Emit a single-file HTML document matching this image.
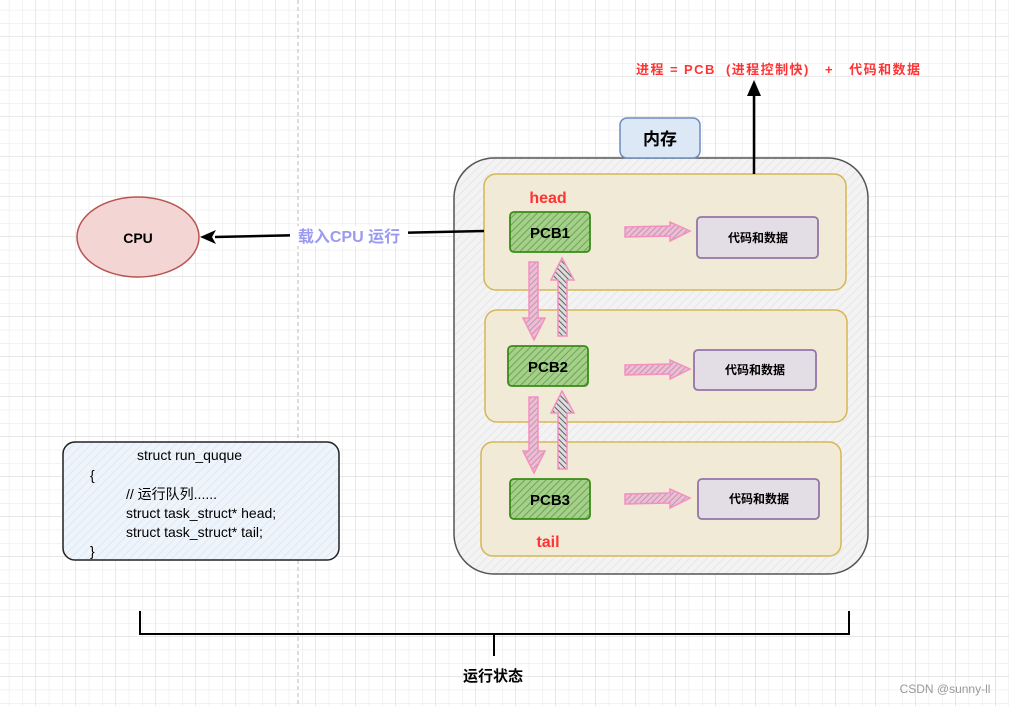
<!DOCTYPE html>
<html><head><meta charset="utf-8"><style>
html,body{margin:0;padding:0;background:#fff}
svg{display:block}
text{font-family:"Liberation Sans","Noto Sans CJK SC",sans-serif;font-weight:bold}
</style></head><body>
<svg width="1009" height="706" viewBox="0 0 1009 706" xmlns="http://www.w3.org/2000/svg">
<defs>
<pattern id="g" width="13.33" height="13.33" patternUnits="userSpaceOnUse" x="-4" y="-3">
<path d="M13.33 0V13.33M0 13.33H13.33" stroke="#e6e6e6" stroke-width="1" fill="none"/>
</pattern>
<pattern id="G" width="40" height="40" patternUnits="userSpaceOnUse" x="-4" y="-3">
<path d="M40 0V40M0 40H40" stroke="#d6d6d6" stroke-width="1" fill="none"/>
</pattern>
<pattern id="h" width="6" height="6" patternUnits="userSpaceOnUse" patternTransform="rotate(45)">
<line x1="0" y1="0" x2="0" y2="6" stroke="rgba(0,0,0,0.05)" stroke-width="2"/>
</pattern>
<pattern id="hg" width="5" height="5" patternUnits="userSpaceOnUse" patternTransform="rotate(45)">
<rect width="5" height="5" fill="#a5cf8a"/>
<line x1="0" y1="0" x2="0" y2="5" stroke="#6aa84f" stroke-width="2"/>
</pattern>
<pattern id="hp" width="4" height="4" patternUnits="userSpaceOnUse" patternTransform="rotate(45)">
<rect width="4" height="4" fill="#f4b9d6"/>
<line x1="0" y1="0" x2="0" y2="4" stroke="#999" stroke-width="1.5"/>
</pattern>
<pattern id="hd" width="4" height="4" patternUnits="userSpaceOnUse" patternTransform="rotate(-45)">
<rect width="4" height="4" fill="#ddd"/>
<line x1="0" y1="0" x2="0" y2="4" stroke="#444" stroke-width="1.6"/>
</pattern>
</defs>
<rect width="1009" height="706" fill="#fff"/>
<rect width="1009" height="706" fill="url(#g)"/>
<rect width="1009" height="706" fill="url(#G)"/>
<line x1="298" y1="0" x2="298" y2="706" stroke="#bbb" stroke-dasharray="4 3"/>

<rect x="454" y="158" width="414" height="416" rx="40" fill="#f3f3f3" stroke="#555" stroke-width="1.5"/>
<rect x="454" y="158" width="414" height="416" rx="40" fill="url(#h)"/>
<rect x="620" y="118" width="80" height="40" rx="7" fill="#dce8f5" stroke="#6c8ebf" stroke-width="1.5"/>
<text x="660" y="145" font-size="17" text-anchor="middle">内存</text>

<g stroke="#d6b656" stroke-width="1.5" fill="#f0ead6">
<rect x="484" y="174" width="362" height="116" rx="12"/>
<rect x="485" y="310" width="362" height="112" rx="12"/>
<rect x="481" y="442" width="360" height="114" rx="12"/>
</g>

<line x1="754" y1="174" x2="754" y2="92" stroke="#000" stroke-width="2.5"/>
<polygon points="754,80 747,96 761,96" fill="#000"/>
<text x="636" y="74" font-size="13" fill="#ff3333" textLength="284" lengthAdjust="spacing" xml:space="preserve">进程 = PCB  (进程控制快)   +   代码和数据</text>

<line x1="484" y1="231" x2="215" y2="237" stroke="#000" stroke-width="2.5"/>
<polygon points="200,237 216,230 212,237 216,244" fill="#000"/>
<rect x="290" y="226" width="118" height="20" fill="#fff"/>
<text x="349" y="242" font-size="16" fill="#9a9af0" text-anchor="middle">载入CPU 运行</text>

<ellipse cx="138" cy="237" rx="61" ry="40" fill="#f3d5d4" stroke="#b85450" stroke-width="1.5"/>
<text x="138" y="243" font-size="14" text-anchor="middle">CPU</text>

<text x="548" y="203" font-size="16" fill="#ff3333" text-anchor="middle">head</text>
<text x="548" y="547" font-size="16" fill="#ff3333" text-anchor="middle">tail</text>

<g stroke="#3a8a1a" stroke-width="1.8">
<rect x="510" y="212" width="80" height="40" rx="4" fill="url(#hg)"/>
<rect x="508" y="346" width="80" height="40" rx="4" fill="url(#hg)"/>
<rect x="510" y="479" width="80" height="40" rx="4" fill="url(#hg)"/>
</g>
<g font-size="15" text-anchor="middle">
<text x="550" y="238">PCB1</text>
<text x="548" y="372">PCB2</text>
<text x="550" y="505">PCB3</text>
</g>

<g stroke="#9673a6" stroke-width="1.8" fill="#e3dde6">
<rect x="697" y="217" width="121" height="41" rx="4"/>
<rect x="694" y="350" width="122" height="40" rx="4"/>
<rect x="698" y="479" width="121" height="40" rx="4"/>
</g>
<g font-size="12" text-anchor="middle">
<text x="758" y="242">代码和数据</text>
<text x="755" y="374">代码和数据</text>
<text x="759" y="503">代码和数据</text>
</g>

<g fill="url(#hp)" stroke="#f48fc0" stroke-width="1.5">
<polygon points="625,227 670,226 670,222 690,231 670,241 670,236 625,237"/>
<polygon points="625,365 670,364 670,360 690,369 670,379 670,374 625,375"/>
<polygon points="625,494 670,493 670,489 690,498 670,508 670,503 625,504"/>
</g>
<g fill="url(#hp)" stroke="#f48fc0" stroke-width="1.5">
<polygon points="529,262 538,262 538,318 545,318 534,340 523,318 529,318"/>
<polygon points="529,397 538,397 538,451 545,451 534,473 523,451 529,451"/>
</g>
<g fill="url(#hd)" stroke="#f48fc0" stroke-width="1.5">
<polygon points="558,336 567,336 567,280 574,280 562,258 551,280 558,280"/>
<polygon points="558,469 567,469 567,413 574,413 562,391 551,413 558,413"/>
</g>

<rect x="63" y="442" width="276" height="118" rx="12" fill="#eef4fc" stroke="#222" stroke-width="1.5"/>
<rect x="63" y="442" width="276" height="118" rx="12" fill="url(#h)"/>
<g font-size="14">
<text x="137" y="460" style="font-weight:normal">struct run_quque</text>
<text x="90" y="480" style="font-weight:normal">{</text>
<text x="126" y="499" style="font-weight:normal">// 运行队列......</text>
<text x="126" y="518" style="font-weight:normal">struct task_struct* head;</text>
<text x="126" y="537" style="font-weight:normal">struct task_struct* tail;</text>
<text x="90" y="556" style="font-weight:normal">}</text>
</g>

<path d="M140 611V634H849V611M494 634V656" stroke="#000" stroke-width="2" fill="none"/>
<text x="493" y="681" font-size="15" text-anchor="middle">运行状态</text>

<text x="945" y="693" font-size="12" fill="#999" style="font-weight:normal" text-anchor="middle">CSDN @sunny-ll</text>
</svg>
</body></html>
